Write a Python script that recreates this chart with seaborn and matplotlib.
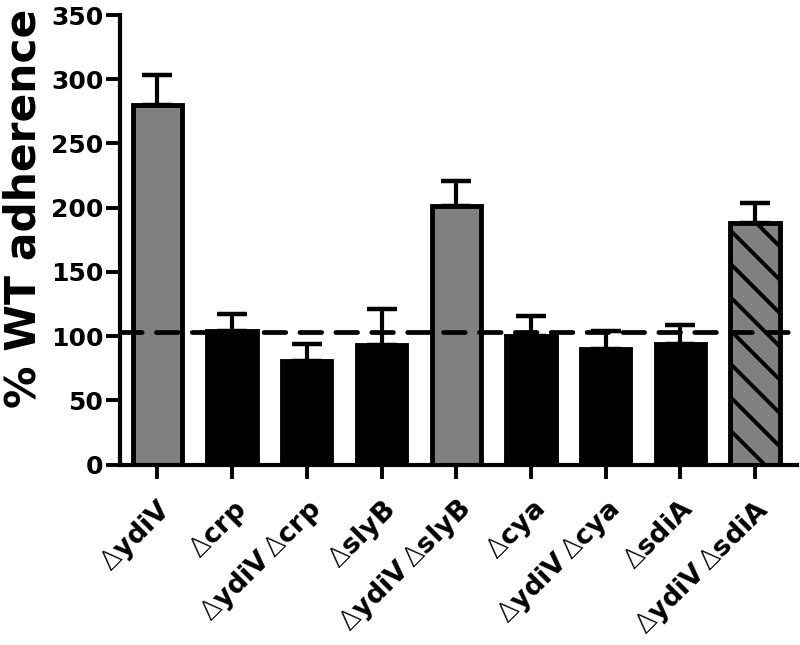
import matplotlib
matplotlib.use("Agg")
import matplotlib.pyplot as plt
import matplotlib.transforms as mtransforms
import seaborn as sns
import pandas as pd
import numpy as np

# ---- data ----
strains = ["ydiV", "crp", "ydiVcrp", "slyB", "ydiVslyB", "cya", "ydiVcya", "sdiA", "ydiVsdiA"]
tick_labels = [r"$\mathrm{\Delta}$ydiV", r"$\mathrm{\Delta}$crp",
               r"$\mathrm{\Delta}$ydiV$\,\mathrm{\Delta}$crp", r"$\mathrm{\Delta}$slyB",
               r"$\mathrm{\Delta}$ydiV$\,\mathrm{\Delta}$slyB", r"$\mathrm{\Delta}$cya",
               r"$\mathrm{\Delta}$ydiV$\,\mathrm{\Delta}$cya", r"$\mathrm{\Delta}$sdiA",
               r"$\mathrm{\Delta}$ydiV$\,\mathrm{\Delta}$sdiA"]
adherence = [280, 104, 81, 93, 201, 100, 90, 94, 188]
sem = [23, 13, 13, 28, 20, 16, 14, 15, 16]
bar_colors = ["#808080", "#000000", "#000000", "#000000", "#808080",
              "#000000", "#000000", "#000000", "#808080"]
hatched = [False, False, False, False, False, False, False, False, True]
wt_level = 103
yticks = [0, 50, 100, 150, 200, 250, 300, 350]

sns.set_style("ticks")
plt.rcParams["font.family"] = ["DejaVu Sans"]
plt.rcParams["mathtext.fontset"] = "custom"
plt.rcParams["mathtext.rm"] = "DejaVu Sans:weight=200"
plt.rcParams["hatch.linewidth"] = 2.8
for k in ["text.color", "axes.labelcolor", "xtick.color", "ytick.color", "axes.edgecolor"]:
    plt.rcParams[k] = "black"

df = pd.DataFrame({"strain": strains, "adherence": adherence})

fig = plt.figure(figsize=(8, 6.45), dpi=100)
ax = fig.add_axes([0.15, 0.2798, 0.84625, 0.6969])

sns.barplot(data=df, x="strain", y="adherence", hue="strain", palette=bar_colors,
            legend=False, errorbar=None, width=0.66, saturation=1,
            edgecolor="black", linewidth=3.5, ax=ax, zorder=2)

for patch, h in zip(ax.patches, hatched):
    if h:
        patch.set_hatch("\\")

pos = np.arange(len(strains))
ax.errorbar(pos, adherence, yerr=[np.zeros(len(sem)), sem], fmt="none",
            ecolor="black", elinewidth=3, capsize=11, capthick=3.2, zorder=1)

ax.axhline(wt_level, color="black", linewidth=3.4, linestyle=(0, (4.6, 3.0)),
           dash_capstyle="round", zorder=5)

ax.set_ylim(0, 350)
ax.set_xlim(-0.5, 8.56)
ax.set_yticks(yticks)
ax.set_yticklabels([str(v) for v in yticks], fontsize=18, fontweight="bold")
ax.set_xticks(pos)
ax.set_xticklabels(tick_labels, fontsize=19.5, fontweight="bold", rotation=45,
                   ha="right", va="top", rotation_mode="anchor")
offset = mtransforms.ScaledTranslation(-0.06, 0, fig.dpi_scale_trans)
for lab in ax.get_xticklabels():
    lab.set_transform(lab.get_transform() + offset)
ax.set_xlabel("")
ax.set_ylabel("% WT adherence", fontsize=30.5, fontweight="bold")
ax.yaxis.set_label_coords(-0.111, 0.57)

for s in ["top", "right"]:
    ax.spines[s].set_visible(False)
for s in ["left", "bottom"]:
    ax.spines[s].set_linewidth(3)
ax.tick_params(axis="both", direction="out", length=10, width=2.8, color="black")
ax.tick_params(axis="y", pad=2)
ax.tick_params(axis="x", pad=12)

fig.savefig("out.png", dpi=100)
